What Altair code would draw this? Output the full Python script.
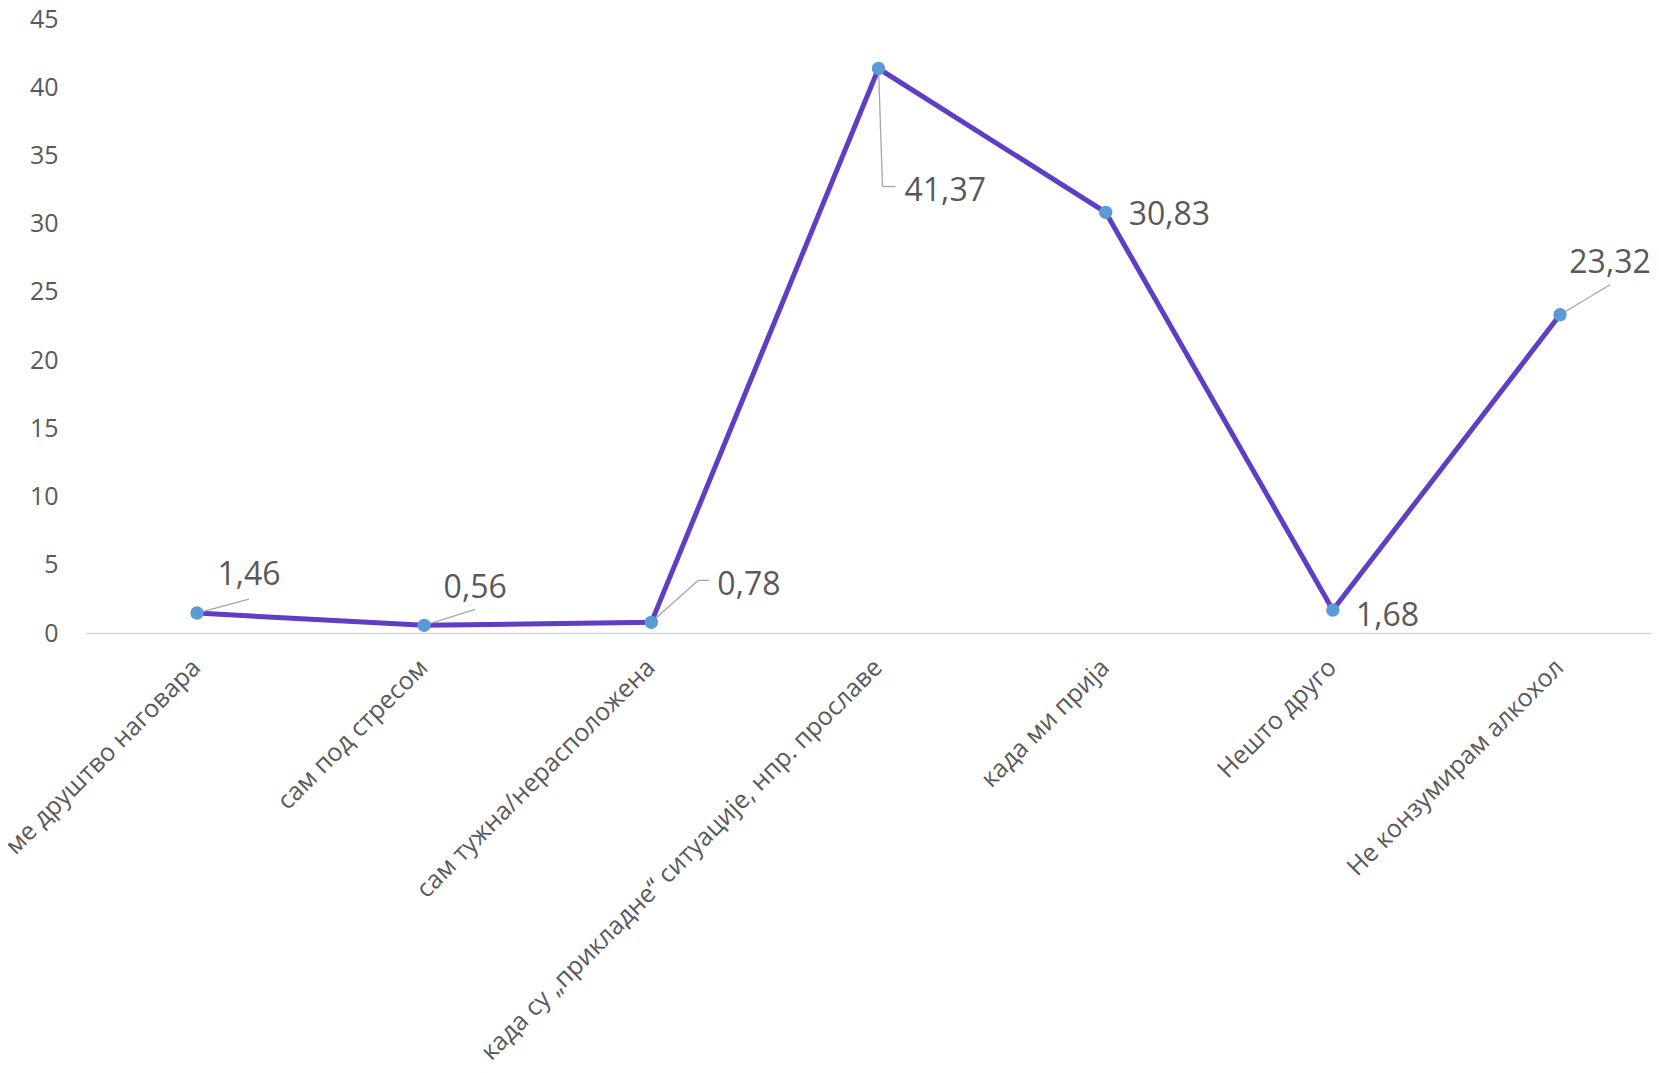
import json
import altair as alt
import pandas as pd

categories = [
    "ме друштво наговара",
    "сам под стресом",
    "сам тужна/нерасположена",
    "када су „прикладне“ ситуације, нпр. прославе",
    "када ми прија",
    "Нешто друго",
    "Не конзумирам алкохол",
]
values = [1.46, 0.56, 0.78, 41.37, 30.83, 1.68, 23.32]
y_ticks = [0, 5, 10, 15, 20, 25, 30, 35, 40, 45]

df = pd.DataFrame({
    "idx": list(range(len(categories))),
    "cat": categories,
    "val": values,
    "lab": [f"{v:.2f}".replace(".", ",") for v in values],
})

FONT = "Open Sans"
GREY = "#595959"
W, H = 1566, 614

label_expr = json.dumps(categories, ensure_ascii=False) + "[datum.value]"

x_enc = alt.X("idx:Q",
              scale=alt.Scale(domain=[-0.493, 6.4005], nice=False, zero=False),
              axis=alt.Axis(values=list(range(len(categories))), labelExpr=label_expr,
                            title=None, grid=False, ticks=False, tickSize=0,
                            domain=True, domainColor="#D9D9D9", domainWidth=1.5,
                            labelAngle=-45, labelAlign="right", labelBaseline="middle",
                            labelPadding=30, labelOffset=-1, labelFontSize=25,
                            labelFont=FONT, labelColor=GREY, labelLimit=2000,
                            labelOverlap=False))
y_enc = alt.Y("val:Q",
              scale=alt.Scale(domain=[0, 45], nice=False),
              axis=alt.Axis(values=y_ticks, title=None, grid=False, ticks=False,
                            tickSize=0, domain=False, labelPadding=27,
                            labelFontSize=25, labelFont=FONT, labelColor=GREY))

base = alt.Chart(df)

line = base.mark_line(color="#5F3DC4", strokeWidth=5).encode(x=x_enc, y=y_enc)
pts = base.mark_circle(color="#5B9BD5", size=180, opacity=1).encode(x="idx:Q", y="val:Q")

# label placement (pixel offsets from each point): dx, dy, align
label_style = [
    (52, -38, "center"),
    (51, -37, "center"),
    (66, -37, "left"),
    (26, 122, "left"),
    (23, 3, "left"),
    (23, 6, "left"),
    (50, -52, "center"),
]
# leader segments (pixel offsets): list of (x0, y0, x1, y1) per point
leaders = [
    [(0, 0, 52, -14)],
    [(0, 0, 51, -16)],
    [(0, 0, 47, -42), (47, -42, 58, -42)],
    [(0, 0, 4, 118), (4, 118, 17, 118)],
    [],
    [],
    [(0, 0, 50, -30)],
]

layers = [line]
for i, segs in enumerate(leaders):
    for (x0, y0, x1, y1) in segs:
        layers.append(
            base.transform_filter(alt.datum.idx == i)
            .mark_rule(color="#A6A6A6", strokeWidth=1.3,
                       xOffset=x0, yOffset=y0, x2Offset=x1, y2Offset=y1)
            .encode(x="idx:Q", x2="idx:Q", y="val:Q", y2="val:Q")
        )
layers.append(pts)
for i, (dx, dy, al) in enumerate(label_style):
    layers.append(
        base.transform_filter(alt.datum.idx == i)
        .mark_text(dx=dx, dy=dy, align=al, baseline="middle", fontSize=32,
                   font=FONT, color=GREY)
        .encode(x="idx:Q", y="val:Q", text="lab:N")
    )

chart = alt.layer(*layers).properties(
    width=W, height=H,
    autosize=alt.AutoSizeParams(type="none"),
    padding={"left": 77, "top": 11, "right": 0, "bottom": 427},
).configure(background="white", view=alt.ViewConfig(stroke=None))

chart.save("out.html", embed_options={"renderer": "svg", "actions": False})
